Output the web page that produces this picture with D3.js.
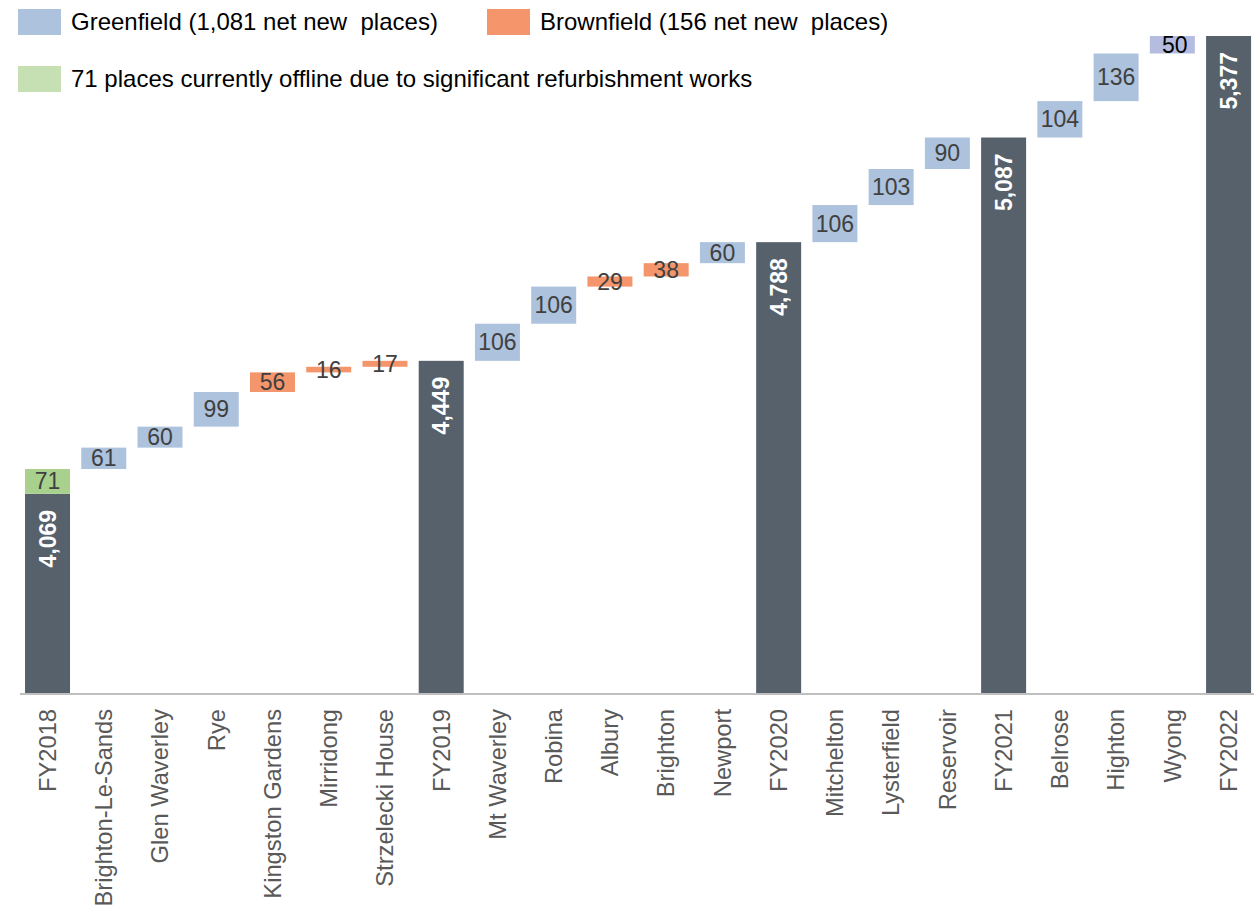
<!DOCTYPE html>
<html>
<head>
<meta charset="utf-8">
<script src="https://cdn.jsdelivr.net/npm/d3@7"></script>
<style>
  body { margin: 0; background: #fff; }
  text { font-family: "Liberation Sans", Arial, sans-serif; }
</style>
</head>
<body>
<svg id="chart" width="1254" height="910"></svg>
<script>
// categories along the x axis
const categories = ["FY2018", "Brighton-Le-Sands", "Glen Waverley", "Rye", "Kingston Gardens",
    "Mirridong", "Strzelecki House", "FY2019", "Mt Waverley", "Robina", "Albury", "Brighton",
    "Newport", "FY2020", "Mitchelton", "Lysterfield", "Reservoir", "FY2021", "Belrose",
    "Highton", "Wyong", "FY2022"];
// value of each step (totals hold the full figure)
const values = [4069, 61, 60, 99, 56, 16, 17, 4449, 106, 106, 29, 38, 60, 4788, 106, 103, 90, 5087, 104, 136, 50, 5377];
// type of each step
const kinds = ["total", "green", "green", "green", "brown", "brown", "brown", "total", "green", "green",
    "brown", "brown", "green", "total", "green", "green", "green", "total", "green", "green", "wyong", "total"];
// offline places stacked on top of FY2018
const offline = 71;
const legendItems = [
    {label: "Greenfield (1,081 net new  places)", kind: "green"},
    {label: "Brownfield (156 net new  places)", kind: "brown"},
    {label: "71 places currently offline due to significant refurbishment works", kind: "offline"}
];

const colors = {
    total: "#56616c",
    green: "#adc2dc",
    brown: "#f4956c",
    wyong: "#b4bde0",
    offline: "#a9d18e",
    offlineLegend: "#c6e0b4"
};

const svg = d3.select("#chart");
const baseY = 693;

let x = d3.scaleBand()
    .domain(categories)
    .range([19.4, 1256.7])
    .paddingInner(0.2)
    .paddingOuter(0.1);

let y = d3.scaleLinear()
    .domain([3500, 5377])
    .range([baseY, 36]);

// build waterfall segments
let running = 0;
let bars = [];
categories.forEach(function (c, i) {
    if (kinds[i] === "total") {
        bars.push({cat: c, y0: 3500, y1: values[i], kind: "total", v: values[i]});
        running = values[i];
        if (i === 0) {
            bars.push({cat: c, y0: running, y1: running + offline, kind: "offline", v: offline});
            running += offline;
        }
    } else {
        bars.push({cat: c, y0: running, y1: running + values[i], kind: kinds[i], v: values[i]});
        running += values[i];
    }
});

let g = svg.append("g");

g.selectAll("rect.bar")
    .data(bars)
    .enter()
    .append("rect")
    .attr("class", "bar")
    .attr("x", d => x(d.cat))
    .attr("width", x.bandwidth())
    .attr("y", d => y(d.y1))
    .attr("height", d => y(d.y0) - y(d.y1))
    .attr("fill", d => colors[d.kind]);

// axis line
svg.append("line")
    .attr("x1", 20).attr("x2", 1254)
    .attr("y1", baseY + 1).attr("y2", baseY + 1)
    .attr("stroke", "#bfbfbf")
    .attr("stroke-width", 2);

// step labels
g.selectAll("text.step")
    .data(bars.filter(d => d.kind !== "total"))
    .enter()
    .append("text")
    .attr("class", "step")
    .attr("x", d => x(d.cat) + x.bandwidth() / 2 + (d.kind === "wyong" ? 2.5 : 0))
    .attr("y", d => (y(d.y0) + y(d.y1)) / 2)
    .attr("dy", "0.35em")
    .attr("text-anchor", "middle")
    .attr("font-size", 23)
    .attr("fill", d => d.kind === "wyong" ? "#000" : "#404040")
    .text(d => d3.format(",")(d.v));

// total labels, rotated
g.selectAll("text.total")
    .data(bars.filter(d => d.kind === "total"))
    .enter()
    .append("text")
    .attr("class", "total")
    .attr("transform", d => "translate(" + (x(d.cat) + x.bandwidth() / 2) + "," + (y(d.y1) + 16) + ") rotate(-90)")
    .attr("dy", "0.35em")
    .attr("text-anchor", "end")
    .attr("font-size", 23)
    .attr("font-weight", "bold")
    .attr("fill", "#fff")
    .text(d => d3.format(",")(d.v));

// category labels
let xAxis = d3.axisBottom(x).tickSize(0).tickPadding(0);
let ax = svg.append("g")
    .attr("transform", "translate(0," + (baseY + 16) + ")")
    .call(xAxis);
ax.select(".domain").remove();
ax.selectAll("text")
    .attr("transform", "rotate(-90)")
    .attr("text-anchor", "end")
    .attr("x", 0)
    .attr("y", 0)
    .attr("dy", "0.35em")
    .attr("font-size", 23.7)
    .attr("font-family", "Liberation Sans, Arial, sans-serif")
    .attr("fill", "#595959");

// legend
let legendPos = [[18, 9], [487, 9], [18, 66]];
let lg = svg.selectAll("g.legend")
    .data(legendItems)
    .enter()
    .append("g")
    .attr("class", "legend")
    .attr("transform", (d, i) => "translate(" + legendPos[i][0] + "," + legendPos[i][1] + ")");
lg.append("rect")
    .attr("width", 43)
    .attr("height", 26)
    .attr("fill", d => d.kind === "offline" ? colors.offlineLegend : colors[d.kind]);
lg.append("text")
    .attr("x", 53)
    .attr("y", 13)
    .attr("dy", "0.35em")
    .attr("font-size", 24)
    .attr("fill", "#000")
    .style("white-space", "pre")
    .text(d => d.label);
</script>
</body>
</html>
